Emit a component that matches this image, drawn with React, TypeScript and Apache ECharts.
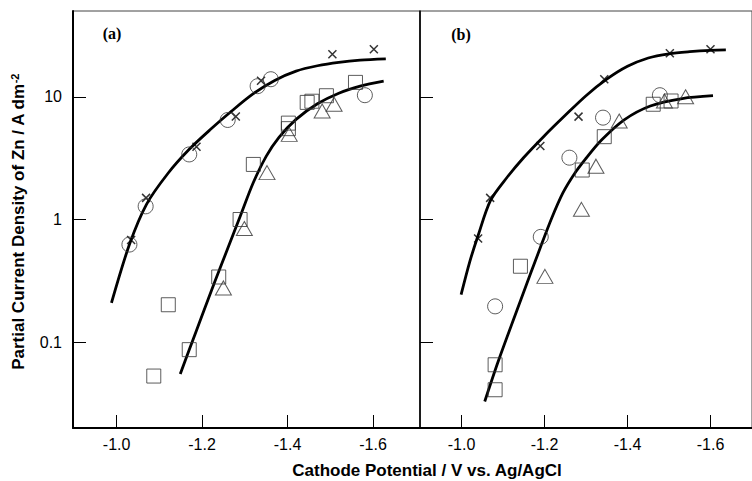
import React, { useEffect, useRef } from "react";
import * as echarts from "echarts";

const xTicks = [-1.0, -1.2, -1.4, -1.6];
const yTicks = [0.1, 1, 10];

// Panel (a)
const aCross = [[-1.034, 0.68], [-1.069, 1.5], [-1.187, 3.92], [-1.279, 6.9], [-1.338, 13.5], [-1.505, 22.2], [-1.602, 24.4]];
const aCircle = [[-1.03, 0.625], [-1.068, 1.28], [-1.17, 3.39], [-1.26, 6.47], [-1.33, 12.2], [-1.361, 13.9], [-1.581, 10.3]];
const aSquare = [[-1.087, 0.053], [-1.17, 0.087], [-1.121, 0.202], [-1.239, 0.34], [-1.289, 1.0], [-1.32, 2.81], [-1.402, 6.1], [-1.402, 5.5], [-1.446, 9.0], [-1.457, 9.2], [-1.491, 10.2], [-1.559, 13.1]];
const aTriangle = [[-1.25, 0.277], [-1.299, 0.845], [-1.352, 2.41], [-1.404, 4.94], [-1.481, 7.66], [-1.509, 8.69]];
const aCurveUpper = [[-0.988, 0.209], [-1.03, 0.625], [-1.07, 1.33], [-1.12, 2.37], [-1.17, 3.73], [-1.22, 5.43], [-1.27, 7.69], [-1.32, 10.6], [-1.37, 13.6], [-1.42, 16.2], [-1.47, 17.9], [-1.52, 19.1], [-1.57, 19.9], [-1.63, 20.4]];
const aCurveLower = [[-1.149, 0.055], [-1.17, 0.0868], [-1.2, 0.165], [-1.23, 0.312], [-1.26, 0.58], [-1.29, 1.078], [-1.32, 2.0], [-1.35, 3.27], [-1.38, 4.67], [-1.42, 6.55], [-1.47, 8.77], [-1.52, 10.7], [-1.57, 12.2], [-1.625, 13.4]];

// Panel (b)
const bCross = [[-1.04, 0.7], [-1.069, 1.5], [-1.19, 3.97], [-1.282, 6.89], [-1.344, 13.9], [-1.502, 22.6], [-1.6, 24.4]];
const bCircle = [[-1.081, 0.196], [-1.191, 0.722], [-1.26, 3.19], [-1.341, 6.76], [-1.478, 10.3]];
const bSquare = [[-1.081, 0.041], [-1.081, 0.0655], [-1.142, 0.416], [-1.291, 2.53], [-1.344, 4.73], [-1.462, 8.69], [-1.505, 9.24]];
const bTriangle = [[-1.201, 0.344], [-1.289, 1.21], [-1.324, 2.72], [-1.38, 6.35], [-1.489, 9.24], [-1.54, 10.0]];
const bCurveUpper = [[-0.999, 0.244], [-1.02, 0.454], [-1.04, 0.74], [-1.07, 1.43], [-1.11, 2.21], [-1.15, 3.2], [-1.2, 4.82], [-1.25, 7.06], [-1.3, 10.2], [-1.35, 13.9], [-1.4, 17.7], [-1.45, 20.7], [-1.5, 22.4], [-1.55, 23.3], [-1.6, 23.9], [-1.637, 24.1]];
const bCurveLower = [[-1.056, 0.0329], [-1.089, 0.0706], [-1.143, 0.222], [-1.19, 0.591], [-1.217, 1.02], [-1.244, 1.64], [-1.271, 2.33], [-1.299, 3.12], [-1.338, 4.46], [-1.392, 6.49], [-1.455, 8.41], [-1.532, 9.67], [-1.606, 10.2]];

const FONT = "Liberation Sans, Arial, sans-serif";
const CROSS = "path://M0,0L10,10M10,0L0,10";

function markerSeries(data: number[][], idx: number, kind: string) {
  const base: any = {
    type: "scatter",
    xAxisIndex: idx,
    yAxisIndex: idx,
    data,
    z: 3,
    silent: true,
  };
  if (kind === "cross") {
    return { ...base, symbol: CROSS, symbolSize: 8, itemStyle: { color: "rgba(0,0,0,0)", borderColor: "#000", borderWidth: 1.5 } };
  }
  const sym = kind === "circle" ? "circle" : kind === "square" ? "rect" : "triangle";
  const size = kind === "circle" ? 15 : kind === "square" ? 14 : [16, 14];
  return { ...base, symbol: sym, symbolSize: size, itemStyle: { color: "rgba(0,0,0,0)", borderColor: "#333", borderWidth: 1 } };
}

function curveSeries(data: number[][], idx: number) {
  return {
    type: "line",
    xAxisIndex: idx,
    yAxisIndex: idx,
    data,
    smooth: 0.3,
    symbol: "none",
    z: 2,
    silent: true,
    lineStyle: { color: "#000", width: 2.8 },
  };
}

export default function App() {
  const ref = useRef<HTMLDivElement>(null);
  useEffect(() => {
    if (!ref.current) return;
    const chart = echarts.init(ref.current, undefined, { renderer: "svg" });
    const xAxis = [0, 1].map((i) => ({
      type: "value",
      gridIndex: i,
      min: i === 0 ? -1.71 : -1.7,
      max: i === 0 ? -0.898 : -0.9,
      inverse: true,
      axisLine: { show: true, onZero: false, lineStyle: { color: "#000", width: 2 } },
      axisTick: { show: true, inside: true, length: 13, customValues: xTicks, lineStyle: { color: "#000", width: 1 } },
      axisLabel: { customValues: xTicks, formatter: (v: number) => v.toFixed(1), color: "#000", fontSize: 16, fontFamily: FONT, margin: 8 },
      splitLine: { show: false },
    }));
    const yAxis = [0, 1].map((i) => ({
      type: "log",
      logBase: 10,
      gridIndex: i,
      min: 0.02,
      max: 50,
      axisLine: { show: true, onZero: false, lineStyle: { color: "#000", width: i === 0 ? 2 : 1.5 } },
      axisTick: { show: true, inside: true, length: 13, customValues: yTicks, lineStyle: { color: "#000", width: 1 } },
      axisLabel: {
        show: i === 0,
        customValues: yTicks,
        formatter: (v: number) => (v >= 1 ? String(Math.round(v)) : v.toFixed(1)),
        color: "#000",
        fontSize: 16,
        fontFamily: FONT,
        margin: 11,
      },
      splitLine: { show: false },
      minorTick: { show: false },
    }));
    chart.setOption({
      animation: false,
      backgroundColor: "#fff",
      grid: [
        { left: 73, right: 752 - 420, top: 11, bottom: 53, show: true, borderColor: "#444", borderWidth: 1 },
        { left: 420, right: -10, top: 11, bottom: 53, show: true, borderColor: "#444", borderWidth: 1 },
      ],
      xAxis,
      yAxis,
      series: [
        curveSeries(aCurveUpper, 0),
        curveSeries(aCurveLower, 0),
        markerSeries(aCross, 0, "cross"),
        markerSeries(aCircle, 0, "circle"),
        markerSeries(aSquare, 0, "square"),
        markerSeries(aTriangle, 0, "triangle"),
        curveSeries(bCurveUpper, 1),
        curveSeries(bCurveLower, 1),
        markerSeries(bCross, 1, "cross"),
        markerSeries(bCircle, 1, "circle"),
        markerSeries(bSquare, 1, "square"),
        markerSeries(bTriangle, 1, "triangle"),
      ],
      graphic: [
        { type: "text", x: 112, y: 33, style: { text: "(a)", fill: "#000", fontSize: 16, fontWeight: "bold", fontFamily: "Liberation Serif, serif", align: "center", verticalAlign: "middle" } },
        { type: "text", x: 461, y: 34, style: { text: "(b)", fill: "#000", fontSize: 16, fontWeight: "bold", fontFamily: "Liberation Serif, serif", align: "center", verticalAlign: "middle" } },
        {
          type: "text",
          x: 427,
          y: 470,
          style: { text: "Cathode Potential / V vs. Ag/AgCl", fill: "#000", fontSize: 17, fontWeight: "bold", fontFamily: FONT, align: "center", verticalAlign: "middle" },
        },
        {
          type: "text",
          x: 18,
          y: 222,
          rotation: Math.PI / 2,
          style: {
            text: "Partial Current Density of Zn / A dm{sup|-2}",
            fill: "#000",
            fontSize: 17,
            fontWeight: "bold",
            fontFamily: FONT,
            align: "center",
            verticalAlign: "middle",
            rich: { sup: { fontSize: 11, fontWeight: "bold", fontFamily: FONT, fill: "#000", verticalAlign: "top", lineHeight: 18 } },
          },
        },
      ],
    });
    return () => chart.dispose();
  }, []);
  return <div ref={ref} style={{ position: "fixed", left: 0, top: 0, width: 752, height: 481 }} />;
}
